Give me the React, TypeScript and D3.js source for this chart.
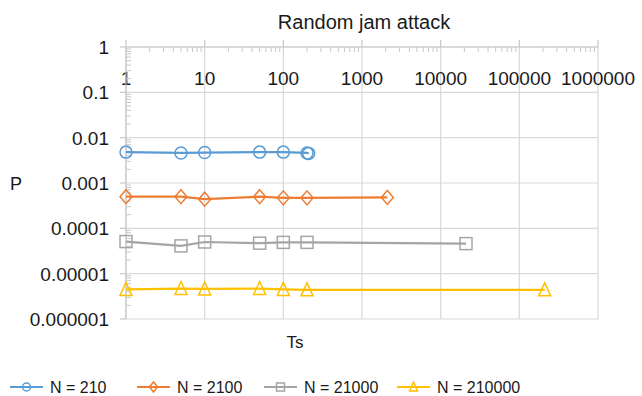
import * as d3 from "d3";

// chart data
const tsValues = [1, 5, 10, 50, 100, 200];
const seriesNames = ["N = 210", "N = 2100", "N = 21000", "N = 210000"];
const seriesN = [210, 2100, 21000, 210000];
const p210 = [0.0048, 0.0046, 0.0047, 0.0048, 0.0048, 0.0046, 0.0045];
const p2100 = [0.0005, 0.0005, 0.00044, 0.0005, 0.00047, 0.00047, 0.00048];
const p21000 = [0.000051, 0.000041, 0.00005, 0.000047, 0.000049, 0.000049, 0.000046];
const p210000 = [0.0000045, 0.0000047, 0.0000046, 0.0000047, 0.0000045, 0.0000044, 0.0000044];
const seriesValues = [p210, p2100, p21000, p210000];
const colors = ["#5b9bd5", "#ed7d31", "#a5a5a5", "#ffc000"];
const markers = ["circle", "diamond", "square", "triangle"];
const xTickLabels = ["1", "10", "100", "1000", "10000", "100000", "1000000"];
const yTickLabels = ["1", "0.1", "0.01", "0.001", "0.0001", "0.00001", "0.000001"];

const FONT = "'Liberation Sans', Arial, sans-serif";

function Marker({ type, x, y, s, color }: { type: string; x: number; y: number; s: number; color: string }) {
  const common = { fill: "none", stroke: color, strokeWidth: 1.5 };
  if (type === "circle") return <circle cx={x} cy={y} r={s} {...common} />;
  if (type === "diamond")
    return <path d={`M${x},${y - s - 1}L${x + s},${y}L${x},${y + s + 1}L${x - s},${y}Z`} {...common} />;
  if (type === "square") return <rect x={x - s} y={y - s} width={s * 2} height={s * 2} {...common} />;
  return <path d={`M${x},${y - s - 1}L${x + s},${y + s}L${x - s},${y + s}Z`} {...common} />;
}

export default function App() {
  const width = 642;
  const height = 396;

  // log scales for both axes
  const x = d3.scaleLog().domain([1, 1e6]).range([126, 598]);
  const y = d3.scaleLog().domain([1e-6, 1]).range([319, 47]);

  const xMajors = xTickLabels.map(Number);
  const yMajors = yTickLabels.map(Number);

  // minor ticks 2..9 inside each decade
  const xMinors: number[] = [];
  for (let k = 0; k < 6; k++) for (let m = 2; m < 10; m++) xMinors.push(m * Math.pow(10, k));
  const yMinors: number[] = [];
  for (let k = -6; k < 0; k++) for (let m = 2; m < 10; m++) yMinors.push(m * Math.pow(10, k));

  const line = d3
    .line<[number, number]>()
    .x((d) => x(d[0]))
    .y((d) => y(d[1]));

  const series = seriesValues.map((vals, i) => {
    const xs = [...tsValues, seriesN[i]];
    return vals.map((v, j) => [xs[j], v] as [number, number]);
  });

  const grid = "#d9d9d9";
  const legendX = [10, 137, 264, 397];

  return (
    <svg width={width} height={height} style={{ position: "absolute", left: 0, top: 0, background: "#fff" }} fontFamily={FONT}>
      <rect width={width} height={height} fill="#fff" />
      {/* title */}
      <text x={364} y={29} textAnchor="middle" fontSize={20} fill="#1a1a1a">
        Random jam attack
      </text>

      {/* gridlines */}
      {xMajors.map((v) => (
        <line key={"gx" + v} x1={x(v)} x2={x(v)} y1={y(1)} y2={y(1e-6)} stroke={grid} strokeWidth={1.2} />
      ))}
      {yMajors.map((v) => (
        <line key={"gy" + v} x1={x(1)} x2={x(1e6)} y1={y(v)} y2={y(v)} stroke={grid} strokeWidth={1.2} />
      ))}

      {/* x axis along y = 1 */}
      <line x1={x(1)} x2={x(1e6)} y1={y(1)} y2={y(1)} stroke="#c8c8c8" strokeWidth={1.2} />
      {xMajors.map((v) => (
        <line key={"xt" + v} x1={x(v)} x2={x(v)} y1={y(1) - 7} y2={y(1)} stroke="#c8c8c8" strokeWidth={1.2} />
      ))}
      {xMinors.map((v) => (
        <line key={"xm" + v} x1={x(v)} x2={x(v)} y1={y(1)} y2={y(1) + 5} stroke="#c8c8c8" strokeWidth={1} />
      ))}
      {xMajors.map((v, i) => (
        <text key={"xl" + v} x={x(v)} y={85} textAnchor="middle" fontSize={19} fill="#1a1a1a">
          {xTickLabels[i]}
        </text>
      ))}

      {/* y axis along x = 1 */}
      <line x1={x(1)} x2={x(1)} y1={y(1)} y2={y(1e-6)} stroke="#c8c8c8" strokeWidth={1.2} />
      {yMajors.map((v) => (
        <line key={"yt" + v} x1={x(1) - 6} x2={x(1)} y1={y(v)} y2={y(v)} stroke="#c8c8c8" strokeWidth={1.2} />
      ))}
      {yMinors.map((v) => (
        <line key={"ym" + v} x1={x(1)} x2={x(1) + 5} y1={y(v)} y2={y(v)} stroke="#c8c8c8" strokeWidth={1} />
      ))}
      {yMajors.map((v, i) => (
        <text key={"yl" + v} x={109} y={y(v)} dy="0.36em" textAnchor="end" fontSize={19} fill="#1a1a1a">
          {yTickLabels[i]}
        </text>
      ))}

      {/* axis titles */}
      <text x={16} y={190} textAnchor="middle" fontSize={18} fill="#1a1a1a">
        P
      </text>
      <text x={295} y={348} textAnchor="middle" fontSize={17} fill="#1a1a1a">
        Ts
      </text>

      {/* series */}
      {series.map((pts, i) => (
        <g key={"s" + i}>
          <path d={line(pts) ?? ""} fill="none" stroke={colors[i]} strokeWidth={2.2} />
          {pts.map((p, j) => (
            <Marker key={j} type={markers[i]} x={x(p[0])} y={y(p[1])} s={6} color={colors[i]} />
          ))}
        </g>
      ))}

      {/* legend */}
      {seriesNames.map((name, i) => (
        <g key={"lg" + i}>
          <line x1={legendX[i]} x2={legendX[i] + 33} y1={387} y2={387} stroke={colors[i]} strokeWidth={2.2} />
          <Marker type={markers[i]} x={legendX[i] + 16.5} y={387} s={4} color={colors[i]} />
          <text x={legendX[i] + 40} y={393} fontSize={16} fill="#1a1a1a">
            {name}
          </text>
        </g>
      ))}
    </svg>
  );
}
